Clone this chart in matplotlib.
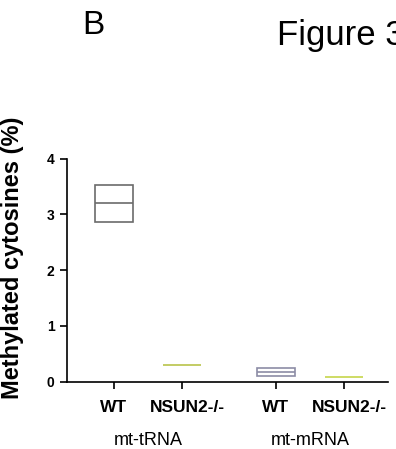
import matplotlib
matplotlib.use('Agg')
import numpy as np
from matplotlib import pyplot as plt

plt.rcParams['font.family'] = ['Liberation Sans', 'DejaVu Sans']

# Данные: минимум / середина / максимум для каждого образца (%)
samples = ['WT', 'NSUN2-/-', 'WT', 'NSUN2-/-']
groups = ['mt-tRNA', 'mt-mRNA']
low_vals = [2.87, 0.29, 0.10, 0.08]
mid_vals = [3.20, 0.29, 0.17, 0.08]
high_vals = [3.53, 0.29, 0.25, 0.08]
edge_colors = ['#6b6b6b', '#b9c44a', '#8c8ca6', '#c6d64a']

positions = [1, 2, 3.38, 4.38]
box_w = 0.56

W, H = 396, 449
fig = plt.figure(figsize=(W / 100, H / 100), dpi=100)
ax = fig.add_axes([0.169, 0.15, 0.811, 0.4965])

for x, lo, mid, hi, c in zip(positions, low_vals, mid_vals, high_vals, edge_colors):
    if hi - lo > 0:
        ax.bar(x, hi - lo, bottom=lo, width=box_w, fill=False,
               edgecolor=c, linewidth=1.2)
    ax.hlines(mid, x - box_w / 2, x + box_w / 2, color=c, linewidth=1.2)

ax.set_xlim(0.309, 5.03)
ax.set_ylim(0, 4)
ax.set_yticks([0, 1, 2, 3, 4])
for lab in ax.get_yticklabels():
    lab.set_fontweight('bold')
    lab.set_fontsize(10)

# засечки на позициях, подписи (minor) - NSUN2-/- чуть правее, как в оригинале
ax.xaxis.remove_overlapping_locs = False
ax.set_xticks(positions)
ax.set_xticklabels([])
label_pos = [p + (0.08 if i % 2 else 0) for i, p in enumerate(positions)]
ax.set_xticks(label_pos, minor=True)
ax.set_xticklabels(samples, minor=True, fontsize=12.5, fontweight='bold')

ax.spines['top'].set_visible(False)
ax.spines['right'].set_visible(False)
ax.spines['left'].set_linewidth(1.2)
ax.spines['bottom'].set_linewidth(1.2)
ax.tick_params(axis='both', width=1.2, length=5)
ax.tick_params(axis='x', which='minor', length=0, pad=13)
ax.tick_params(axis='y', pad=4)

# подпись оси Y
fig.text(13 / W, 1 - 258 / H, 'Methylated cytosines (%)', rotation=90,
         ha='center', va='center', fontsize=17, fontweight='bold')

# Подписи групп под осью
for i, g in enumerate(groups):
    gx = (positions[2 * i] + positions[2 * i + 1]) / 2
    ax.text(gx, -0.265, g, transform=ax.get_xaxis_transform(),
            ha='center', va='center', fontsize=13)

fig.text(93 / W, 1 - 26 / H, 'B', ha='center', va='center', fontsize=24)
fig.text(277 / W, 1 - 35 / H, 'Figure 3', ha='left', va='center', fontsize=25)

plt.savefig('out.png', dpi=100)
plt.close()
